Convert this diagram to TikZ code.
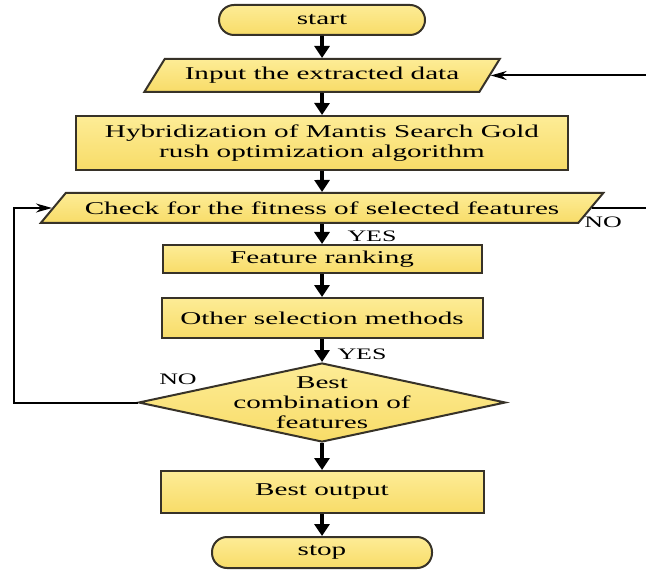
\documentclass[tikz,border=0pt]{standalone}
\usepackage{fontspec}
\setmainfont{Liberation Serif}[FakeStretch=1.62]
\usetikzlibrary{shapes.geometric,arrows.meta}

\newlength{\du}
\setlength{\du}{0.5pt}

\definecolor{boxfill}{RGB}{248,220,104}
\definecolor{boxtop}{RGB}{253,236,150}
\definecolor{boxline}{RGB}{55,50,40}

\tikzset{
  flowbox/.style={draw=boxline, line width=1pt, top color=boxtop, bottom color=boxfill,
    inner sep=0pt, align=center, font=\fontsize{9}{10}\selectfont},
  startstop/.style={flowbox, rectangle, rounded corners=15\du},
  procbox/.style={flowbox, rectangle},
  iobox/.style={flowbox, trapezium, trapezium stretches=true},
  decision/.style={flowbox, diamond},
  decisiontext/.style={align=center, inner sep=0pt, font=\fontsize{9}{10}\selectfont},
  flowarrow/.style={line width=1.8pt, -{Triangle[width=7.5pt,length=6pt]}},
  backarrow/.style={line width=1pt, -{Stealth[width=4.5pt,length=8pt]}},
  answer/.style={font=\fontsize{8}{9}\selectfont, inner sep=0pt},
}

\begin{document}
\begin{tikzpicture}
\pgftransformxscale{1.000000}
\pgftransformyscale{-1.000000}
\useasboundingbox (0\du,0\du) rectangle (646\du,571\du);
% flow shapes
\node[startstop, minimum width=206\du, minimum height=30\du] (start) at (322\du,20\du) {start};
\node[iobox, trapezium left angle=42.5, trapezium right angle=137.5,
  minimum width=356\du, minimum height=33\du] (input) at (322\du,75.5\du) {Input the extracted data};
\node[procbox, minimum width=492\du, minimum height=54\du] (hybrid) at (322\du,143\du)
  {Hybridization of Mantis Search Gold\\rush optimization algorithm};
\node[iobox, trapezium left angle=29, trapezium right angle=151,
  minimum width=564\du, minimum height=30\du] (check) at (322\du,208\du) {Check for the fitness of selected features};
\node[procbox, minimum width=319\du, minimum height=28\du] (rank) at (322\du,259\du) {Feature ranking};
\node[procbox, minimum width=321\du, minimum height=40\du] (other) at (322\du,318\du) {Other selection methods};
\node[decision, minimum width=367\du, minimum height=79\du,
  label={[decisiontext]center:{Best\\combination of\\features}}] (best) at (322\du,402.5\du) {};
\node[procbox, minimum width=323\du, minimum height=42\du] (output) at (322\du,492\du) {Best output};
\node[startstop, minimum width=220\du, minimum height=31\du] (stop) at (322\du,552.5\du) {stop};
% main flow
\draw[flowarrow] (start) -- (input);
\draw[flowarrow] (input) -- (hybrid);
\draw[flowarrow] (hybrid) -- (check);
\draw[flowarrow] (check) -- (rank);
\draw[flowarrow] (rank) -- (other);
\draw[flowarrow] (other) -- (best);
\draw[flowarrow] (best) -- (output);
\draw[flowarrow] (output) -- (stop);
% loops back
\coordinate (rgt) at (656\du,0\du);
\coordinate (lft) at (14\du,0\du);
\draw[backarrow] (check.east) -- (check.east -| rgt) |- (input.east);
\draw[backarrow] (best.west) -- (best.west -| lft) |- (check.west);
% answers
\node[answer] (yes1) at (372\du,236\du) {YES};
\node[answer] (no1) at (603\du,222\du) {NO};
\node[answer] (yes2) at (362\du,354\du) {YES};
\node[answer] (no2) at (178\du,379\du) {NO};
\end{tikzpicture}
\end{document}
